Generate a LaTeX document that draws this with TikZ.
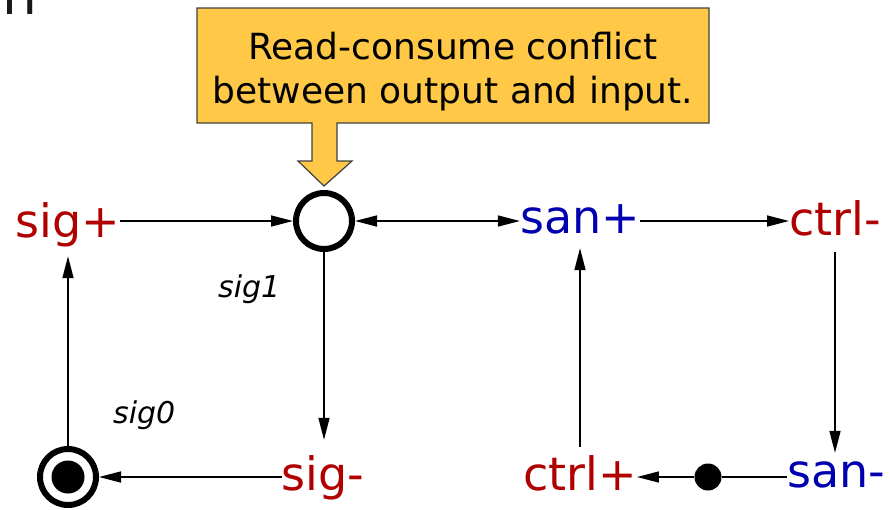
\documentclass[tikz,border=0pt]{standalone}
\usepackage{fontspec}
\setmainfont{DejaVu Sans}
\usetikzlibrary{arrows.meta}
\definecolor{sigred}{RGB}{176,0,0}
\definecolor{sanblue}{RGB}{0,0,176}
\definecolor{noteor}{RGB}{255,200,70}
\begin{document}
\begin{tikzpicture}[x=1pt,y=-1pt,
  lbl/.style={inner sep=0pt, text height=34pt, text depth=10pt, font=\fontsize{46}{55}\selectfont, anchor=base},
  sig/.style={lbl, text=sigred},
  san/.style={lbl, text=sanblue},
  place/.style={circle, draw, line width=6pt, minimum size=56pt, inner sep=0pt},
  conn/.style={line width=1.5pt},
  arr/.style={conn, -{Triangle[length=22pt,width=11pt]}},
  arrboth/.style={conn, {Triangle[length=22pt,width=11pt]}-{Triangle[length=22pt,width=11pt]}},
  arclbl/.style={font=\fontsize{30}{36}\selectfont\itshape, anchor=base west, inner sep=0pt},
  callout/.style={fill=noteor, draw=black!75, line width=1.2pt, line join=miter}
]
\useasboundingbox (0,0) rectangle (890,509);

% cropped title fragment
\node[font=\fontsize{55}{66}\selectfont, anchor=base east, inner sep=0pt, text=black!90] (ttl) at (38,14) {on};

% callout
\path[callout] (197,8) -- (709,8) -- (709,123) -- (337,123) -- (337,161) -- (352,161)
  -- (324,186) -- (298,161) -- (312,161) -- (312,123) -- (197,123) -- cycle;
\node[align=center, font=\fontsize{36}{44}\selectfont, inner sep=0pt] (note) at (453,71.5)
  {Read-consume conflict\\between output and input.};

% nodes
\node[sig] (sigp) at (68,237) {sig+};
\node[place] (p1) at (324,221) {};
\node[san] (sanp) at (580,233) {san+};
\node[sig] (ctrlm) at (835,235) {ctrl-};
\node[san] (sanm) at (836,487) {san-};
\node[fill, circle, inner sep=0pt, minimum size=27pt] (dot) at (708,477) {};
\node[sig] (ctrlp) at (580,490) {ctrl+};
\node[sig] (sigm) at (323,490) {sig-};
\node[place] (p0) at (68,477) {};
\fill (p0.center) circle (16.5pt);

\node[arclbl] (l1) at (218,297) {sig1};
\node[arclbl] (l0) at (113,423) {sig0};

% connectors
\draw[arr] (sigp.east |- p1.center) -- (p1.west);
\draw[arrboth] (p1.east) -- (sanp.west |- p1.center);
\draw[arr] (sanp.east |- p1.center) -- (ctrlm.west |- p1.center);
\draw[arr, shorten <=7pt] (ctrlm.south) -- (ctrlm.south |- sanm.north);
\draw[conn] (sanm.west |- dot.center) -- (dot.east);
\draw[arr] (dot.west) -- (ctrlp.east |- dot.center);
\draw[arr, shorten <=9pt, shorten >=5pt] (ctrlp.north) -- (ctrlp.north |- sanp.south);
\draw[arr, shorten >=16pt] (p1.south) -- (p1.south |- sigm.north);
\draw[arr] (sigm.west |- p0.center) -- (p0.east);
\draw[arr, shorten >=9pt] (p0.north) -- (p0.north |- sigp.south);
\end{tikzpicture}
\end{document}
